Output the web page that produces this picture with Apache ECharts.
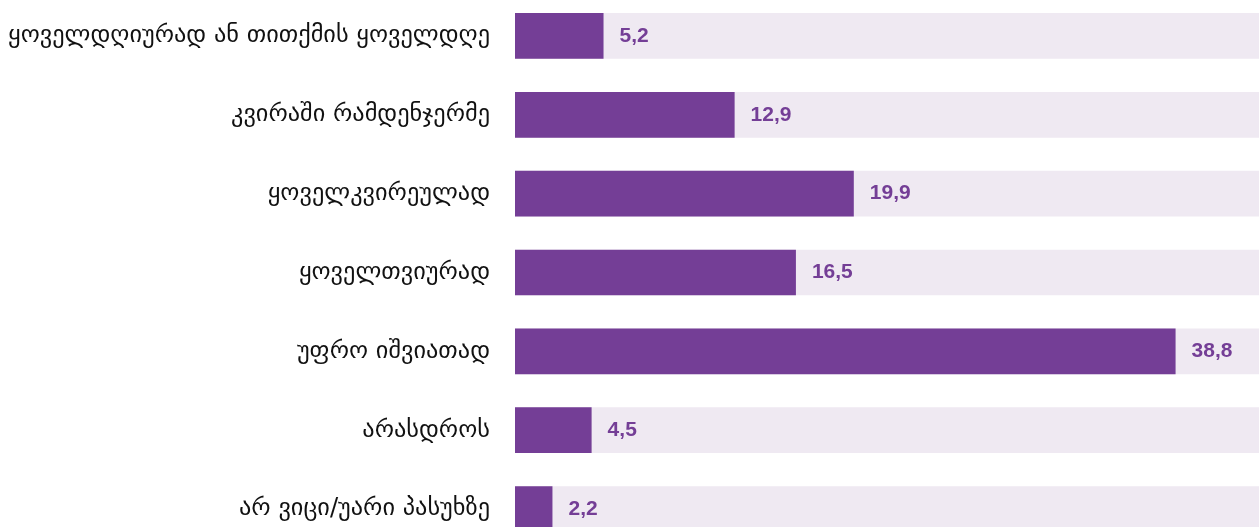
<!DOCTYPE html>
<html>
<head>
<meta charset="utf-8">
<script src="https://cdn.jsdelivr.net/npm/echarts@6/dist/echarts.min.js"></script>
<style>
  html, body { margin: 0; padding: 0; background: #ffffff; overflow: hidden; }
  /* the plot runs a little past the top and bottom edges of the page */
  #chart { position: absolute; left: 0; top: -4px; width: 1259px; height: 560px; }
</style>
</head>
<body>
<div id="chart"></div>
<script>
// Answer categories, top to bottom
const categories = [
  'ყოველდღიურად ან თითქმის ყოველდღე',
  'კვირაში რამდენჯერმე',
  'ყოველკვირეულად',
  'ყოველთვიურად',
  'უფრო იშვიათად',
  'არასდროს',
  'არ ვიცი/უარი პასუხზე'
];
// Share of respondents, %
const values = [5.2, 12.9, 19.9, 16.5, 38.8, 4.5, 2.2];

const purple = '#743e96';
const track = '#efe9f2';

const chart = echarts.init(document.getElementById('chart'), null, { renderer: 'canvas' });
chart.setOption({
  animation: false,
  grid: { left: 515, top: 0.5, width: 744, height: 552, containLabel: false },
  xAxis: {
    type: 'value',
    min: 0,
    max: 43.7,
    show: false
  },
  yAxis: {
    type: 'category',
    data: categories,
    inverse: true,
    axisLine: { show: false },
    axisTick: { show: false },
    axisLabel: {
      margin: 25,
      color: '#111111',
      fontSize: 24.3,
      fontFamily: 'DejaVu Sans, Noto Sans, sans-serif'
    }
  },
  series: [{
    type: 'bar',
    data: values,
    barCategoryGap: '42%',
    itemStyle: { color: purple },
    showBackground: true,
    backgroundStyle: { color: track },
    label: {
      show: true,
      position: 'right',
      distance: 16,
      color: purple,
      fontSize: 21,
      fontWeight: 'bold',
      fontFamily: 'Liberation Sans, Arial, sans-serif',
      formatter: p => String(p.value).replace('.', ',')
    }
  }]
});
</script>
</body>
</html>
